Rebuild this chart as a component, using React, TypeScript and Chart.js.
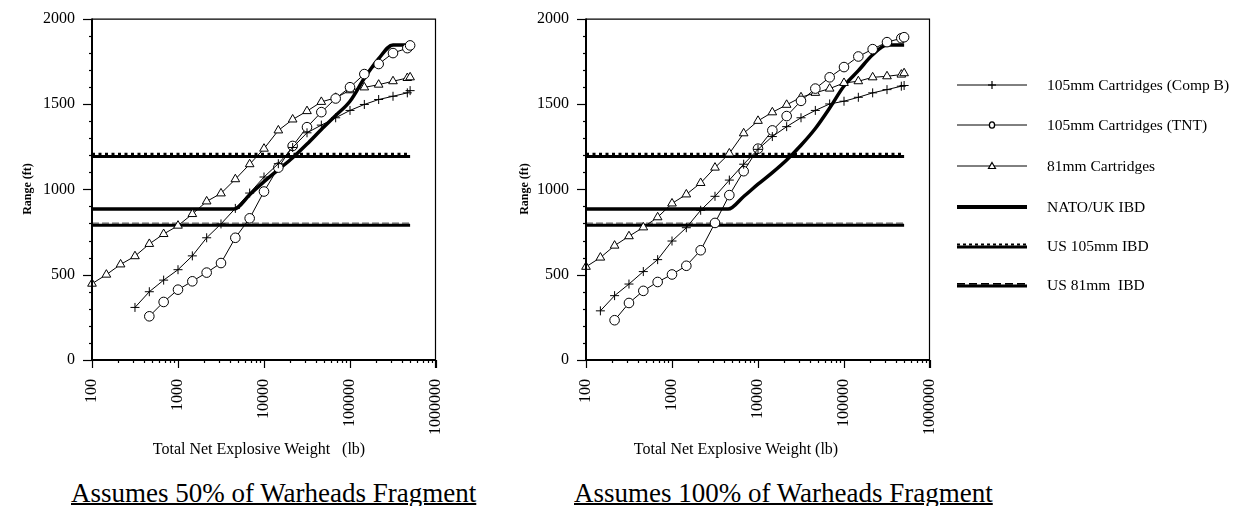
import React, { useEffect, useRef } from 'react';
import { Chart, registerables } from 'chart.js';

Chart.register(...registerables);

// ---------- DATA ----------
const weightsLb = [100, 147, 215, 316, 464, 681, 1000, 1468, 2154, 3162, 4642, 6813, 10000, 14678, 21544, 31623, 46416, 68129, 100000, 146780, 215443, 316228, 464159, 500000];

// 50% of warheads fragment
const compB50 = [null, null, null, 308, 400, 468, 529, 610, 716, 797, 888, 978, 1072, 1150, 1245, 1331, 1376, 1419, 1462, 1497, 1526, 1545, 1565, 1578];
const tnt50 = [null, null, null, null, 256, 340, 412, 461, 512, 568, 716, 830, 987, 1127, 1254, 1364, 1452, 1532, 1598, 1675, 1734, 1798, 1827, 1843];
const mm81_50 = [447, 500, 560, 608, 680, 738, 787, 855, 929, 976, 1059, 1147, 1238, 1345, 1409, 1458, 1512, 1536, 1580, 1597, 1613, 1633, 1652, 1656];

// 100% of warheads fragment
const compB100 = [null, 288, 377, 445, 518, 588, 697, 775, 877, 959, 1054, 1147, 1234, 1309, 1367, 1419, 1462, 1500, 1516, 1539, 1565, 1584, 1604, 1608];
const tnt100 = [null, null, 233, 334, 405, 457, 501, 552, 643, 803, 966, 1106, 1238, 1345, 1429, 1518, 1590, 1656, 1716, 1778, 1821, 1862, 1885, 1891];
const mm81_100 = [546, 600, 670, 725, 777, 836, 917, 970, 1037, 1127, 1210, 1328, 1401, 1451, 1495, 1539, 1565, 1590, 1623, 1633, 1656, 1662, 1672, 1680];

const natoWeightsLb = [100, 4500, 6813, 10000, 14678, 21544, 31623, 46416, 68129, 100000, 146780, 215443, 316228, 500000];
const nato50 = [884, 884, 968, 1045, 1115, 1185, 1265, 1350, 1432, 1516, 1650, 1765, 1846, 1846];
const nato100 = [884, 884, 958, 1030, 1098, 1172, 1258, 1356, 1476, 1605, 1695, 1788, 1846, 1846];

const ibdWeightsLb = [100, 500000];
const us105IBD = [1192, 1192];
const us81IBD = [790, 790];

const xTickValues = [100, 1000, 10000, 100000, 1000000];
const xTickLabels = ['100', '1000', '10000', '100000', '1000000'];
const yTickValues = [0, 500, 1000, 1500, 2000];
const yTickLabels = ['0', '500', '1000', '1500', '2000'];

const seriesNames = ['105mm Cartridges (Comp B)', '105mm Cartridges (TNT)', '81mm Cartridges', 'NATO/UK IBD', 'US 105mm IBD', 'US 81mm  IBD'];
const yAxisTitle = 'Range (ft)';
const xAxisTitles = ['Total Net Explosive Weight\u00a0\u00a0 (lb)', 'Total Net Explosive Weight (lb)'];
const panelTitles = ['Assumes 50% of Warheads Fragment', 'Assumes 100% of Warheads Fragment'];

// ---------- HELPERS ----------
const FONT = '"Liberation Serif", "Times New Roman", serif';

const pts = (xs: number[], ys: (number | null)[]) =>
  xs.map((x, i) => ({ x, y: ys[i] })).filter((p) => p.y !== null && p.y !== undefined);

const shiftPlugin = {
  id: 'shiftY',
  beforeDatasetDraw(chart: any, args: any) {
    const ds: any = chart.data.datasets[args.index];
    if (ds.shiftY) {
      chart.ctx.save();
      chart.ctx.translate(0, ds.shiftY);
    }
  },
  afterDatasetDraw(chart: any, args: any) {
    const ds: any = chart.data.datasets[args.index];
    if (ds.shiftY) chart.ctx.restore();
  },
};

const framePlugin = {
  id: 'frame',
  afterDraw(chart: any) {
    const { ctx, chartArea, scales } = chart;
    const { left, top, right, bottom } = chartArea;
    const x = scales.x;
    const y = scales.y;
    ctx.save();
    ctx.strokeStyle = '#000';
    ctx.lineCap = 'butt';
    // top & right border
    ctx.lineWidth = 1.2;
    ctx.beginPath();
    ctx.moveTo(left, top + 0.5);
    ctx.lineTo(right - 0.5, top + 0.5);
    ctx.lineTo(right - 0.5, bottom + 8);
    ctx.stroke();
    // axes
    ctx.lineWidth = 2;
    ctx.beginPath();
    ctx.moveTo(left, top);
    ctx.lineTo(left, bottom);
    ctx.lineTo(right, bottom);
    ctx.stroke();
    // y ticks
    ctx.lineWidth = 1.2;
    for (let v = 0; v <= 2000; v += 100) {
      const py = Math.round(y.getPixelForValue(v)) + 0.5;
      const len = v % 500 === 0 ? 9 : 3;
      ctx.beginPath();
      ctx.moveTo(left - len, py);
      ctx.lineTo(left, py);
      ctx.stroke();
    }
    // x ticks
    for (let d = 0; d < xTickValues.length; d++) {
      const dec = xTickValues[d];
      const px = Math.round(x.getPixelForValue(dec)) + 0.5;
      ctx.beginPath();
      ctx.moveTo(px, bottom);
      ctx.lineTo(px, bottom + 8);
      ctx.stroke();
      if (d < xTickValues.length - 1) {
        for (let m = 2; m <= 9; m++) {
          const mx = Math.round(x.getPixelForValue(dec * m)) + 0.5;
          ctx.beginPath();
          ctx.moveTo(mx, bottom);
          ctx.lineTo(mx, bottom + 3);
          ctx.stroke();
        }
      }
    }
    ctx.restore();
  },
};

function lineSeries(label: string, data: any[], pointStyle: string, radius: number) {
  return {
    label,
    data,
    borderColor: '#000',
    borderWidth: 1,
    pointStyle,
    pointRadius: radius,
    pointBorderWidth: 1,
    pointBorderColor: '#000',
    pointBackgroundColor: '#fff',
    fill: false,
    tension: 0,
    clip: false,
    order: 0,
  };
}

function makeDatasets(compB: any[], tnt: any[], mm81: any[], nato: number[]) {
  return [
    lineSeries(seriesNames[0], pts(weightsLb, compB), 'cross', 4.5),
    lineSeries(seriesNames[1], pts(weightsLb, tnt), 'circle', 4.8),
    lineSeries(seriesNames[2], pts(weightsLb, mm81), 'triangle', 5),
    {
      label: seriesNames[3],
      data: pts(natoWeightsLb, nato),
      borderColor: '#000',
      borderWidth: 3.5,
      pointRadius: 0,
      cubicInterpolationMode: 'monotone',
      clip: false,
      order: 1,
    },
    {
      label: seriesNames[4],
      data: pts(ibdWeightsLb, us105IBD),
      borderColor: '#000',
      borderWidth: 3,
      pointRadius: 0,
      clip: false,
      order: 2,
    },
    {
      label: seriesNames[4] + ' dots',
      data: pts(ibdWeightsLb, us105IBD),
      borderColor: '#000',
      borderWidth: 2.5,
      borderDash: [3, 3.5],
      pointRadius: 0,
      clip: false,
      shiftY: -2.5,
      order: 2,
    },
    {
      label: seriesNames[5],
      data: pts(ibdWeightsLb, us81IBD),
      borderColor: '#000',
      borderWidth: 3,
      pointRadius: 0,
      clip: false,
      order: 2,
    },
    {
      label: seriesNames[5] + ' dashes',
      data: pts(ibdWeightsLb, us81IBD),
      borderColor: '#666',
      borderWidth: 1.2,
      borderDash: [7, 3],
      pointRadius: 0,
      clip: false,
      shiftY: -2,
      order: 2,
    },
  ];
}

const CANVAS_W = 470;
const CANVAS_H = 462;

function Panel(props: { left: number; compB: any[]; tnt: any[]; mm81: any[]; nato: number[]; yTitleX: number; xTitle: string; xTitleCenter: number; title: string; titleLeft: number }) {
  const ref = useRef<HTMLCanvasElement>(null);
  useEffect(() => {
    if (!ref.current) return;
    const chart = new Chart(ref.current, {
      type: 'line',
      data: { datasets: makeDatasets(props.compB, props.tnt, props.mm81, props.nato) as any },
      options: {
        animation: false,
        responsive: false,
        devicePixelRatio: 1,
        layout: { padding: { top: 17, right: 34, left: 0, bottom: 0 } },
        plugins: { legend: { display: false }, tooltip: { enabled: false } },
        scales: {
          x: {
            type: 'logarithmic',
            min: 100,
            max: 1000000,
            grid: { display: false },
            border: { display: false },
            afterBuildTicks: (s: any) => {
              s.ticks = xTickValues.map((v) => ({ value: v }));
            },
            afterFit: (s: any) => {
              s.height = CANVAS_H - 360;
            },
            ticks: {
              autoSkip: false,
              minRotation: 90,
              maxRotation: 90,
              padding: 11,
              color: '#000',
              font: { family: FONT, size: 16 },
              callback: (v: any) => {
                const i = xTickValues.indexOf(Number(v));
                return i >= 0 ? xTickLabels[i] : '';
              },
            },
          },
          y: {
            type: 'linear',
            min: 0,
            max: 2000,
            grid: { display: false },
            border: { display: false },
            afterBuildTicks: (s: any) => {
              s.ticks = yTickValues.map((v) => ({ value: v }));
            },
            afterFit: (s: any) => {
              s.width = 92;
            },
            ticks: {
              padding: 9,
              color: '#000',
              font: { family: FONT, size: 16 },
              callback: (v: any) => {
                const i = yTickValues.indexOf(Number(v));
                return i >= 0 ? yTickLabels[i] : '';
              },
            },
          },
        },
      } as any,
      plugins: [shiftPlugin, framePlugin],
    });
    return () => chart.destroy();
  }, []);
  return (
    <>
      <canvas
        ref={ref}
        width={CANVAS_W}
        height={CANVAS_H}
        style={{ position: 'absolute', left: props.left, top: 0, width: CANVAS_W, height: CANVAS_H }}
      />
      <div
        style={{
          position: 'absolute',
          left: props.left + props.yTitleX - 60,
          top: 189 - 8,
          width: 120,
          height: 16,
          lineHeight: '16px',
          textAlign: 'center',
          transform: 'rotate(-90deg)',
          fontFamily: FONT,
          fontWeight: 'bold',
          fontSize: 12,
          color: '#000',
          whiteSpace: 'pre',
        }}
      >
        {yAxisTitle}
      </div>
      <div
        style={{
          position: 'absolute',
          left: props.xTitleCenter - 150,
          top: 440,
          width: 300,
          textAlign: 'center',
          fontFamily: FONT,
          fontSize: 16,
          lineHeight: '18px',
          color: '#000',
          whiteSpace: 'pre',
        }}
      >
        {props.xTitle}
      </div>
      <div
        style={{
          position: 'absolute',
          left: props.titleLeft,
          top: 478,
          fontFamily: FONT,
          fontSize: 27,
          lineHeight: '30px',
          color: '#000',
          textDecoration: 'underline',
          textDecorationThickness: '1.5px',
          whiteSpace: 'pre',
        }}
      >
        {props.title}
      </div>
    </>
  );
}

function LegendSample(props: { kind: number }) {
  const k = props.kind;
  const W = 70;
  const H = 14;
  const cy = 7;
  return (
    <svg width={W} height={H} style={{ display: 'block' }}>
      {k <= 2 && <line x1={0} y1={cy} x2={W} y2={cy} stroke="#000" strokeWidth={1} />}
      {k === 0 && (
        <>
          <line x1={31} y1={cy} x2={39} y2={cy} stroke="#000" strokeWidth={1.2} />
          <line x1={35} y1={cy - 4} x2={35} y2={cy + 4} stroke="#000" strokeWidth={1.2} />
        </>
      )}
      {k === 1 && <ellipse cx={35} cy={cy} rx={2.6} ry={3.2} fill="#fff" stroke="#000" strokeWidth={1.3} />}
      {k === 2 && <polygon points={`35,${cy - 3.5} 38.5,${cy + 2.5} 31.5,${cy + 2.5}`} fill="#fff" stroke="#000" strokeWidth={1.2} />}
      {k === 3 && <line x1={0} y1={cy} x2={W} y2={cy} stroke="#000" strokeWidth={4} />}
      {k === 4 && (
        <>
          <line x1={0} y1={cy + 1} x2={W} y2={cy + 1} stroke="#000" strokeWidth={3} />
          <line x1={0} y1={cy - 1.5} x2={W} y2={cy - 1.5} stroke="#000" strokeWidth={2.2} strokeDasharray="3 3" />
        </>
      )}
      {k === 5 && (
        <>
          <line x1={0} y1={cy + 1} x2={W} y2={cy + 1} stroke="#000" strokeWidth={3} />
          <line x1={0} y1={cy - 1.2} x2={W} y2={cy - 1.2} stroke="#000" strokeWidth={1.8} strokeDasharray="8 4" />
        </>
      )}
    </svg>
  );
}

function Legend() {
  const rowY = [85, 125, 166, 207, 246, 285];
  return (
    <>
      {seriesNames.map((name, i) => (
        <div key={i}>
          <div style={{ position: 'absolute', left: 957, top: rowY[i] - 7 }}>
            <LegendSample kind={i} />
          </div>
          <div
            style={{
              position: 'absolute',
              left: 1047,
              top: rowY[i] - 10,
              fontFamily: FONT,
              fontSize: 15.5,
              lineHeight: '20px',
              color: '#000',
              whiteSpace: 'pre',
            }}
          >
            {name}
          </div>
        </div>
      ))}
    </>
  );
}

export default function App() {
  return (
    <div style={{ position: 'absolute', left: 0, top: 0, width: 1236, height: 506, background: '#fff', overflow: 'hidden' }}>
      <Panel left={0} compB={compB50} tnt={tnt50} mm81={mm81_50} nato={nato50} yTitleX={27} xTitle={xAxisTitles[0]} xTitleCenter={259} title={panelTitles[0]} titleLeft={71} />
      <Panel left={494} compB={compB100} tnt={tnt100} mm81={mm81_100} nato={nato100} yTitleX={30} xTitle={xAxisTitles[1]} xTitleCenter={736} title={panelTitles[1]} titleLeft={574} />
      <Legend />
    </div>
  );
}
